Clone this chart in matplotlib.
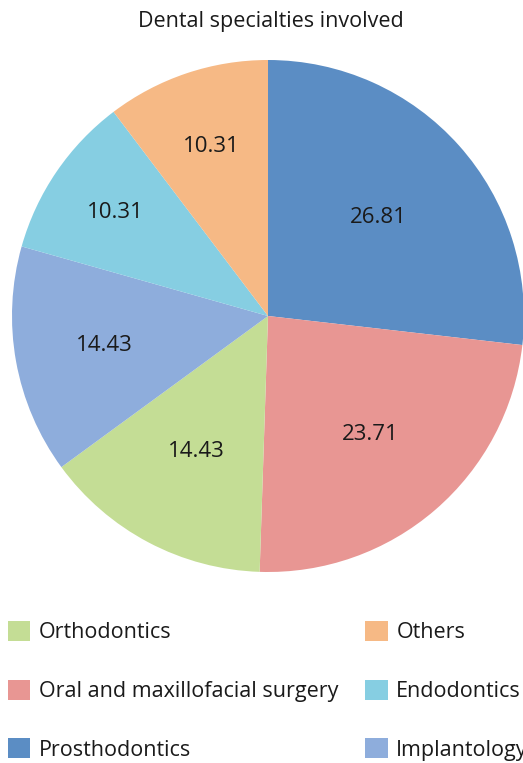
import numpy as np
import matplotlib.pyplot as plt
from matplotlib.patches import Patch

plt.rcParams['font.family'] = ['Open Sans', 'DejaVu Sans']

labels = ['Prosthodontics', 'Oral and maxillofacial surgery', 'Orthodontics',
          'Implantology', 'Endodontics', 'Others']
values = [26.81, 23.71, 14.43, 14.43, 10.31, 10.31]
colors = ['#5B8DC4', '#E89693', '#C4DD95', '#8EADDC', '#86CEE2', '#F6B985']
legend_order = ['Orthodontics', 'Oral and maxillofacial surgery', 'Prosthodontics',
                'Others', 'Endodontics', 'Implantology']
# how far out each value label sits (fraction of radius)
label_r = [0.575, 0.61, 0.60, 0.65, 0.72, 0.70]

W, H = 523, 763
fig = plt.figure(figsize=(W / 100, H / 100), dpi=100)

cx, cy, r = 268, 316, 256
ax = fig.add_axes([(cx - r) / W, 1 - (cy + r) / H, 2 * r / W, 2 * r / H])
wedges, texts, autotexts = ax.pie(values, colors=colors, startangle=90, counterclock=False,
                                  autopct=lambda p: '%.2f' % p,
                                  wedgeprops=dict(linewidth=0),
                                  textprops=dict(fontsize=16, color='#1a1a1a'))
for w, t, d in zip(wedges, autotexts, label_r):
    w.set_clip_on(False)
    a = np.deg2rad((w.theta1 + w.theta2) / 2)
    t.set_position((d * np.cos(a), d * np.sin(a)))
ax.set_xlim(-1, 1)
ax.set_ylim(-1, 1)
ax.axis('off')

fig.text(271 / W, 1 - 21 / H, 'Dental specialties involved', ha='center', va='center',
         fontsize=15.5, color='#1a1a1a')

color_map = dict(zip(labels, colors))
handles = [Patch(facecolor=color_map[l], edgecolor='none', label=l) for l in legend_order]
fig.legend(handles=handles, ncol=2, loc='upper left', bbox_to_anchor=(-1 / W, 1 - 612 / H),
           frameon=False, fontsize=15.5, handlelength=1.05, handleheight=1.05,
           handletextpad=0.4, labelspacing=1.7, columnspacing=1.25, borderaxespad=0,
           labelcolor='#1a1a1a')

fig.savefig('out.png', dpi=100)
